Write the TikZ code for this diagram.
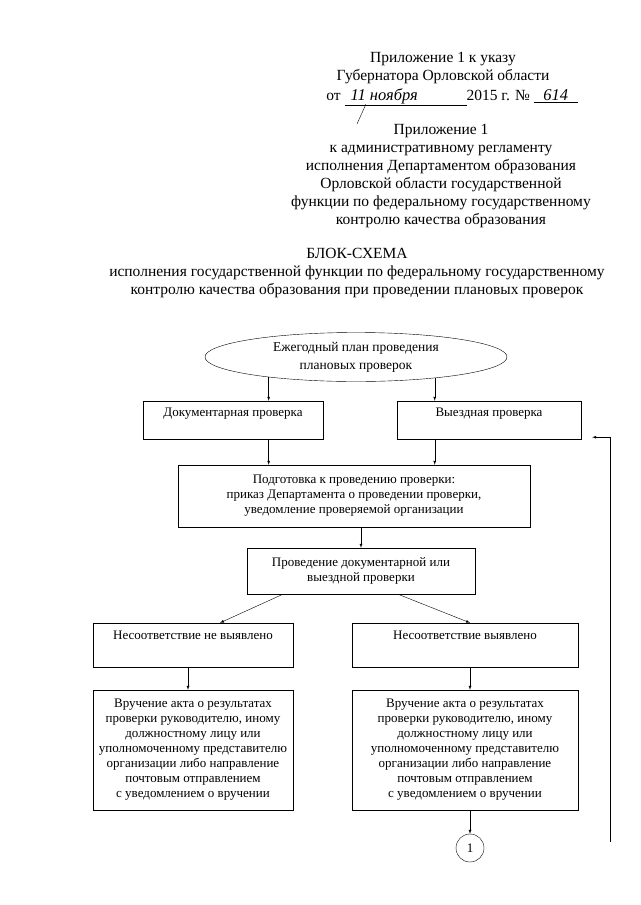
\documentclass[tikz,border=0pt]{standalone}
\usepackage{fontspec}
\setmainfont{Liberation Serif}
\usepackage{tikz}
\usetikzlibrary{shapes.geometric}

\newcommand{\handw}[1]{{\fontsize{16.5}{18}\selectfont\itshape #1}}

\tikzset{
  head/.style = {align = center, inner sep = 0pt, font = \fontsize{15.5}{18}\selectfont},
  block/.style = {draw, rectangle, align = center, inner sep = 2pt, font = \fontsize{13}{15}\selectfont},
  oval/.style = {draw, ellipse, align = center, inner sep = 0pt, font = \fontsize{13.5}{18}\selectfont}
}

\begin{document}
\begin{tikzpicture}[x = 1pt, y = -1pt, >= latex]
\useasboundingbox (0, 0) rectangle (640, 905);
\node [head] (decree) at (443, 68) {Приложение 1 к указу\\
  Губернатора Орловской области};
\node [head] (dated) at (452, 97) {от \underline{\makebox[122pt]{\hspace{6pt}\handw{11 ноября}\hfill}}2015 г. № \underline{\makebox[44pt]{\handw{614}}}};
\node [head] (annex) at (441, 176) {Приложение 1\\
  к административному регламенту\\
  исполнения Департаментом образования\\
  Орловской области государственной\\
  функции по федеральному государственному\\
  контролю качества образования};
\node [head] (title) at (357, 273) {БЛОК-СХЕМА\\
  исполнения государственной функции по федеральному государственному\\
  контролю качества образования при проведении плановых проверок};
\coordinate (s1) at (366, 104);
\coordinate (s2) at (357, 124);
\draw [thin] (s1) -- (s2);
\node [oval, minimum width = 302, minimum height = 49] (plan) at (356, 357) {Ежегодный план проведения\\ плановых проверок};
\node [block, minimum width = 180, minimum height = 38] (doc) at (233, 420) {Документарная проверка\\ \mbox{}};
\node [block, minimum width = 184, minimum height = 38] (visit) at (489, 420) {Выездная проверка\\ \mbox{}};
\node [block, minimum width = 352, minimum height = 62] (prep) at (354, 496) {Подготовка к проведению проверки:\\
  приказ Департамента о проведении проверки,\\
  уведомление проверяемой организации};
\node [block, minimum width = 228, minimum height = 46] (run) at (361, 571) {Проведение документарной или\\ выездной проверки};
\node [block, minimum width = 200, minimum height = 44] (nofault) at (193, 645) {Несоответствие не выявлено\\[4pt] \mbox{}};
\node [block, minimum width = 226, minimum height = 44] (fault) at (465, 645) {Несоответствие выявлено\\[4pt] \mbox{}};
\node [block, minimum width = 200, minimum height = 120] (actA) at (193, 750) {Вручение акта о результатах\\
  проверки руководителю, иному\\
  должностному лицу или\\
  уполномоченному представителю\\
  организации либо направление\\
  почтовым отправлением\\
  с уведомлением о вручении};
\node [block, minimum width = 226, minimum height = 120] (actB) at (465, 750) {Вручение акта о результатах\\
  проверки руководителю, иному\\
  должностному лицу или\\
  уполномоченному представителю\\
  организации либо направление\\
  почтовым отправлением\\
  с уведомлением о вручении};
\node [draw, circle, minimum size = 28, inner sep = 0pt, font = \fontsize{13}{15}\selectfont] (link) at (470, 848) {1};
\coordinate (back) at (610, 842);
\coordinate (backin) at ([shift = {(11, -2)}] visit.south east);
\draw [->] (plan.193.7) -- (plan.193.7 |- doc.north);
\draw [->] (plan.345.7) -- (plan.345.7 |- visit.north);
\draw [->] (doc.south -| plan.193.7) -- (prep.north -| plan.193.7);
\draw [->] (visit.south -| plan.345.7) -- (prep.north -| plan.345.7);
\draw [->] (run.north |- prep.south) -- (run.north);
\draw [->] ([xshift = -78] run.south) -- ([xshift = 27] nofault.north);
\draw [->] ([xshift = 37] run.south) -- ([xshift = 5] fault.north);
\draw [->] ([xshift = -5] nofault.south) -- ([xshift = -5] actA.north);
\draw [->] ([xshift = 5] fault.south) -- ([xshift = 5] actB.north);
\draw [->] (actB.south -| link.north) -- (link.north);
\draw [->] (back) |- (backin);
\end{tikzpicture}
\end{document}
